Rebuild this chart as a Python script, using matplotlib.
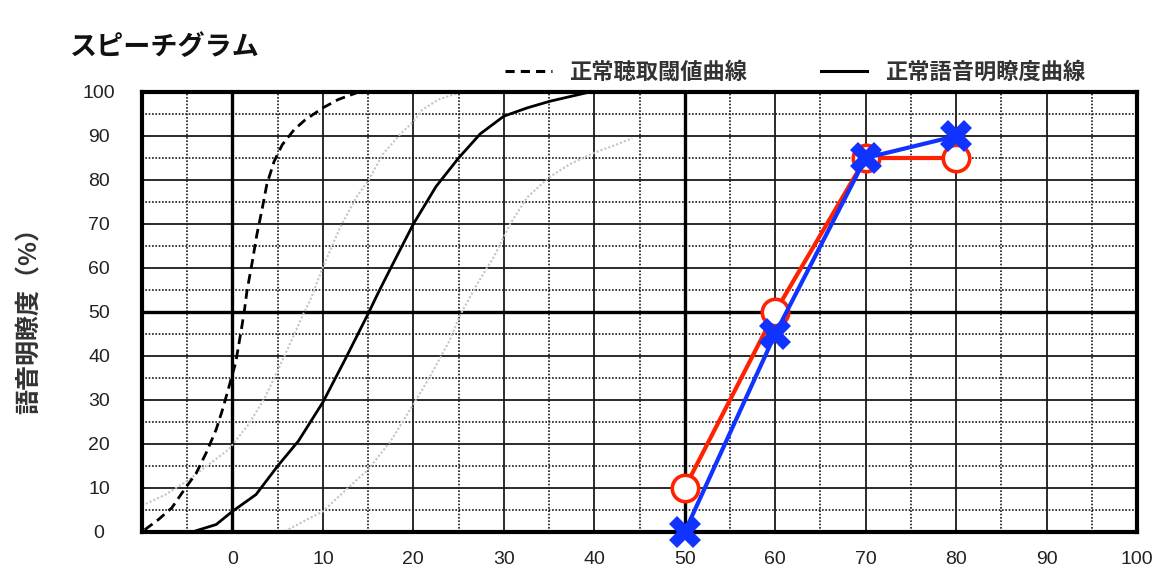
import matplotlib
matplotlib.use("Agg")
import matplotlib.pyplot as plt
from matplotlib.lines import Line2D
from matplotlib.ticker import FixedLocator, FuncFormatter

plt.rcParams['font.family'] = ['Noto Sans CJK JP', 'DejaVu Sans']

# ---- data ----
x_ticks = [-10, 0, 10, 20, 30, 40, 50, 60, 70, 80, 90, 100]
y_ticks = [0, 10, 20, 30, 40, 50, 60, 70, 80, 90, 100]

# normal hearing threshold curve (dashed)
thr_x = [-9.7, -8.2, -6.7, -5.3, -4.0, -2.9, -1.8, -1.1, -0.36, 0.36, 0.9, 1.3, 1.6,
         2.2, 2.7, 3.3, 3.8, 4.6, 5.5, 6.8, 8.0, 10.0, 11.7, 13.7]
thr_y = [0.5, 2.8, 5.5, 9.7, 13.4, 18.0, 23.3, 27.8, 33.2, 38.5, 45.0, 50.0, 54.7,
         61.5, 67.6, 73.6, 79.0, 84.2, 88.0, 91.4, 93.6, 96.4, 98.3, 99.8]

# normal speech intelligibility curve (solid)
sp_x = [-4.0, -1.8, 0.0, 2.6, 5.0, 7.3, 10.0, 12.4, 15.0, 16.1, 17.5, 20.0,
        22.5, 25.0, 27.4, 30.0, 32.6, 35.1, 39.5]
sp_y = [0.3, 1.7, 4.7, 8.5, 15.0, 20.7, 29.5, 39.0, 49.6, 54.3, 60.0, 70.0,
        78.5, 85.0, 90.5, 94.5, 96.4, 97.9, 100.0]

# light grey reference curves
g1_x = [-10.0, -7.4, -5.0, -3.1, -0.4, 1.8, 3.6, 5.0, 6.2, 7.8, 8.6, 10.0, 11.9,
        13.7, 15.0, 16.6, 18.5, 20.0, 21.0, 22.8, 25.0]
g1_y = [6.0, 8.5, 11.6, 14.6, 18.8, 24.5, 30.6, 36.7, 42.0, 49.4, 52.7, 60.2, 69.2,
        76.1, 79.8, 85.8, 90.3, 93.3, 96.0, 98.3, 99.8]

g2_x = [5.8, 10.0, 12.4, 15.0, 17.5, 20.0, 21.8, 24.0, 25.2, 27.0, 28.9, 30.7,
        32.6, 35.0, 37.3, 40.0, 42.4, 44.2]
g2_y = [0.2, 4.7, 9.3, 14.2, 20.7, 29.0, 35.2, 43.5, 49.4, 56.2, 62.5, 70.0,
        76.1, 80.6, 83.6, 86.2, 88.0, 89.5]

# measured results
levels = [50, 60, 70, 80]
right_ear = [10, 50, 85, 85]
left_ear = [0, 45, 85, 90]

title = 'スピーチグラム'
ylabel = '語音明瞭度（%）'
legend_labels = ['正常聴取閾値曲線', '正常語音明瞭度曲線']

# ---- figure ----
W, H = 1174, 584
fig = plt.figure(figsize=(W / 100, H / 100), dpi=100)
L, R, T, B = 142, 1137, 92, 532
ax = fig.add_axes([L / W, 1 - B / H, (R - L) / W, (B - T) / H])
ax.set_xlim(-10, 100)
ax.set_ylim(0, 100)

# grid
ax.xaxis.set_major_locator(FixedLocator(x_ticks))
ax.yaxis.set_major_locator(FixedLocator(y_ticks))
ax.xaxis.set_minor_locator(FixedLocator([v + 5 for v in x_ticks[:-1]]))
ax.yaxis.set_minor_locator(FixedLocator([v + 5 for v in y_ticks[:-1]]))
ax.grid(which='major', color='#1a1a1a', lw=1.3, ls='-', zorder=0)
ax.grid(which='minor', color='#1a1a1a', lw=1.2, ls=(0, (1, 1)), zorder=0)
ax.set_axisbelow(True)
ax.axvline(0, color='black', lw=2.4, zorder=1)
ax.axvline(50, color='black', lw=2.4, zorder=1)
ax.axhline(50, color='black', lw=2.4, zorder=1)
for s in ax.spines.values():
    s.set_linewidth(3)
    s.set_color('black')

ax.xaxis.set_major_formatter(FuncFormatter(lambda v, p: '' if v < 0 else f'{int(v)}'))
ax.tick_params(which='both', length=0)
ax.tick_params(axis='x', pad=14)
ax.tick_params(axis='y', pad=31)
for lbl in ax.get_xticklabels() + ax.get_yticklabels():
    lbl.set_fontfamily(['Liberation Sans Narrow', 'Liberation Sans', 'DejaVu Sans'])
    lbl.set_fontsize(14)
    lbl.set_color('#222222')
for lbl in ax.get_yticklabels():
    lbl.set_ha('center')

# curves
ax.plot(g1_x, g1_y, color='#c4c4c4', lw=1.5, ls=(0, (1, 1)), zorder=2)
ax.plot(g2_x, g2_y, color='#c4c4c4', lw=1.5, ls=(0, (1, 1)), zorder=2)
ax.plot(thr_x, thr_y, color='black', lw=2.0, ls=(0, (3.5, 2)), zorder=3)
ax.plot(sp_x, sp_y, color='black', lw=2.0, ls='-', zorder=3)

ax.plot(levels, right_ear, color='#ff2200', lw=3, marker='o', ms=19,
        mfc='white', mec='#ff2200', mew=2.6, zorder=5, clip_on=False)
ax.plot(levels, left_ear, color='#1133ff', lw=3, marker='X', ms=23,
        mfc='#1133ff', mec='#1133ff', mew=0, zorder=6, clip_on=False)

# legend
handles = [Line2D([], [], color='black', lw=2.2, ls=(0, (3, 2))),
           Line2D([], [], color='black', lw=2.2, ls='-')]
leg = fig.legend(handles, legend_labels, ncol=2, frameon=False,
                 loc='center left', bbox_to_anchor=(505 / W, 1 - 72 / H),
                 borderpad=0, borderaxespad=0, handlelength=2.1,
                 handletextpad=0.8, columnspacing=3.3,
                 prop={'size': 16, 'weight': 'bold'})
for t in leg.get_texts():
    t.set_color('#333333')

fig.text(70 / W, 1 - 47 / H, title, fontsize=19.5, fontweight='bold',
         va='center', ha='left', color='#111111')
fig.text(30 / W, 1 - 314 / H, ylabel, fontsize=18, rotation=90,
         va='center', ha='center', color='#333333', fontweight='bold')

fig.savefig('out.png', dpi=100)
